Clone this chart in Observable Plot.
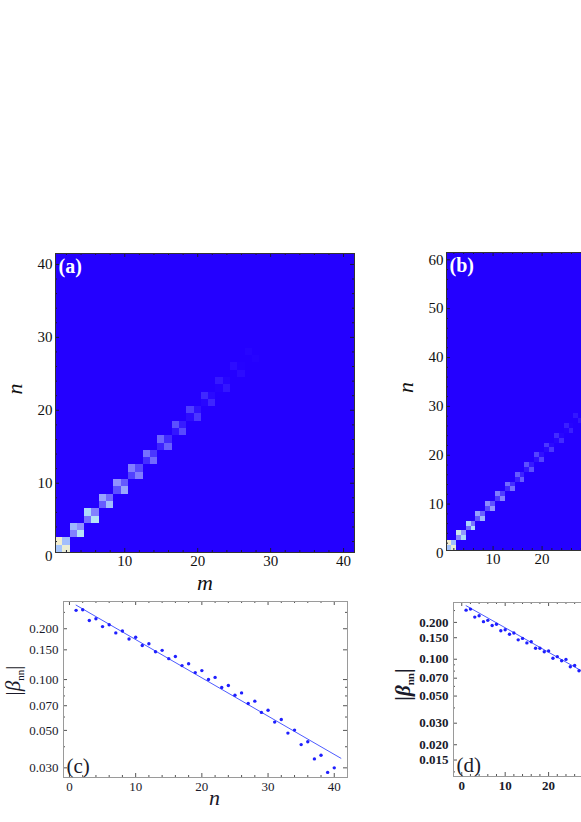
<!DOCTYPE html>
<html><head><meta charset="utf-8">
<script src="https://cdn.jsdelivr.net/npm/d3@7"></script>
<script src="https://cdn.jsdelivr.net/npm/@observablehq/plot@0.6"></script>
<style>
html,body{margin:0;padding:0;background:#fff;}
#wrap{position:relative;width:581px;height:822px;overflow:hidden;background:#fff;}
#wrap > svg{position:absolute;}
#wrap svg, #wrap svg text{font-family:"Liberation Serif","Times New Roman",serif !important;}
svg.mn g[aria-label="x-axis label"] text, svg.mn g[aria-label="y-axis label"] text{font-style:italic;font-size:22px;}
svg.beta g[aria-label="x-axis label"] text{font-style:italic;font-size:22px;}
svg.beta g[aria-label="y-axis label"] text{font-size:21px;}
</style></head><body><div id="wrap"></div>
<script>
// ---------- data ----------
// Panel (a): 41x41 matrix |beta_mn|, non-zero only in 2x2 blocks (m,n in {2k-1, 2k})
const sizeA = 41;
const aUpper    = [1.00, 0.62, 0.72, 0.56, 0.50, 0.43, 0.38, 0.34, 0.26, 0.20, 0.13, 0.08, 0.04, 0.015]; // m=2k-1, n=2k
const aLower    = [0.97, 0.78, 0.77, 0.64, 0.57, 0.43, 0.36, 0.32, 0.24, 0.18, 0.12, 0.07, 0.035, 0.01]; // m=2k, n=2k-1
const aDiagOdd  = [0.66, 0.44, 0.38, 0.31, 0.26, 0.21, 0.15, 0.11, 0.07, 0.04, 0.02, 0.01, 0, 0];
const aDiagEven = [0.64, 0.50, 0.44, 0.36, 0.30, 0.24, 0.18, 0.14, 0.09, 0.06, 0.03, 0.015, 0.005, 0];
// Panel (b): 61x61 matrix
const sizeB = 61;
const bUpper    = [1.00, 0.85, 0.70, 0.55, 0.48, 0.42, 0.36, 0.30, 0.26, 0.22, 0.18, 0.14, 0.10, 0.07, 0.05, 0.03, 0.02, 0.01];
const bLower    = [0.96, 0.72, 0.74, 0.62, 0.52, 0.45, 0.38, 0.31, 0.26, 0.22, 0.18, 0.14, 0.10, 0.07, 0.05, 0.03, 0.02, 0.01];
const bDiagOdd  = [0.66, 0.46, 0.36, 0.28, 0.24, 0.18, 0.13, 0.10, 0.07, 0.05, 0.03, 0.02, 0.01, 0, 0, 0, 0, 0];
const bDiagEven = [0.64, 0.52, 0.40, 0.32, 0.27, 0.20, 0.15, 0.11, 0.08, 0.05, 0.03, 0.02, 0.01, 0, 0, 0, 0, 0];
// Panel (c): |beta_nn| for n = 1..40 and fitted line
const cN = d3.range(1, 41);
const cVals = [0.257,0.259,0.224,0.229,0.206,0.211,0.189,0.194,0.174,0.178,0.159,0.163,0.146,0.149,0.133,0.137,0.121,0.124,0.110,0.113,0.100,0.103,0.0897,0.0922,0.0808,0.0834,0.0722,0.0745,0.0639,0.0658,0.0560,0.0580,0.0482,0.0502,0.0412,0.0428,0.0339,0.0356,0.0282,0.0300];
const cFitN = [1, 41];
const cFitV = [0.276, 0.0342];
// Panel (d): |beta_nn| (visible part n = 1..27) and fitted line
const dN = d3.range(1, 28);
const dVals = [0.252,0.257,0.221,0.227,0.203,0.208,0.189,0.193,0.171,0.174,0.160,0.164,0.144,0.148,0.136,0.139,0.123,0.123,0.115,0.117,0.102,0.105,0.0972,0.0997,0.0868,0.089,0.0805];
const dFitN = [1, 61];
const dFitV = [0.274, 0.0172];
// tick labels
const aXTicks = [10, 20, 30, 40];
const aYTicks = [0, 10, 20, 30, 40];
const bXTicks = [10, 20, 30, 40, 50, 60];
const bYTicks = [0, 10, 20, 30, 40, 50, 60];
const cXTicks = [0, 10, 20, 30, 40];
const cYTicks = [0.03, 0.05, 0.07, 0.1, 0.15, 0.2];
const dXTicks = [0, 10, 20, 30, 40, 50, 60];
const dYTicks = [0.015, 0.02, 0.03, 0.05, 0.07, 0.1, 0.15, 0.2];
const logMinor = [0.012, 0.04, 0.06, 0.08, 0.09, 0.25];
const panelLabels = ["(a)", "(b)", "(c)", "(d)"];

// ---------- helpers ----------
const colorScale = {type: "linear", domain: [0, 0.25, 0.5, 0.75, 1],
  range: ["#2400ff", "#5a4dff", "#9090ff", "#b0e2fb", "#f1edcf"], interpolate: "rgb"};

function buildCells(size, up, low, d1, d2) {
  const cells = [];
  for (let m = 1; m <= size; m++) for (let n = 1; n <= size; n++) {
    let v = 0;
    const km = Math.ceil(m / 2), kn = Math.ceil(n / 2);
    if (km === kn && km <= up.length) {
      const i = km - 1, mo = m % 2 === 1, no = n % 2 === 1;
      v = (mo && no) ? d1[i] : (!mo && !no) ? d2[i] : mo ? up[i] : low[i];
    }
    cells.push({m, n, v});
  }
  return cells;
}
const within = (arr, dom) => arr.filter(d => d >= Math.min(...dom) && d <= Math.max(...dom));

function frameTicks({xMajor, xMinor, yMajor, yMinor, W, H, major = 4, minor = 2, stroke = "#222"}) {
  const o = {stroke, strokeWidth: 1};
  return [
    Plot.tickX(xMajor, {x: d => d, insetTop: H - major, ...o}),
    Plot.tickX(xMajor, {x: d => d, insetBottom: H - major, ...o}),
    Plot.tickX(xMinor, {x: d => d, insetTop: H - minor, ...o}),
    Plot.tickX(xMinor, {x: d => d, insetBottom: H - minor, ...o}),
    Plot.tickY(yMajor, {y: d => d, insetRight: W - major, ...o}),
    Plot.tickY(yMajor, {y: d => d, insetLeft: W - major, ...o}),
    Plot.tickY(yMinor, {y: d => d, insetRight: W - minor, ...o}),
    Plot.tickY(yMinor, {y: d => d, insetLeft: W - minor, ...o})
  ];
}

const serif = "Liberation Serif";
const wrap = document.getElementById("wrap");
function place(svg, left, top, cls) {
  svg.style.left = left + "px"; svg.style.top = top + "px";
  svg.classList.add(cls);
  wrap.appendChild(svg);
  return svg;
}
// shift an axis label along its own baseline direction (rotated labels: + = up)
function nudge(svg, which, dx) {
  const t = svg.querySelector(`g[aria-label="${which}-axis label"] text`);
  if (t && dx) t.setAttribute("dx", dx);
}

function matrixPanel({size, up, low, d1, d2, xTicks, yTicks, label, ml, mr, mt, mb}) {
  const dom = [0.5, size + 0.5];
  const W = 370 - ml - mr, H = 360 - mt - mb;
  const minor = within(d3.range(2, size + 1, 2).filter(d => d % 10), dom);
  return Plot.plot({
    width: 370, height: 360, marginLeft: ml, marginRight: mr, marginTop: mt, marginBottom: mb,
    x: {domain: dom}, y: {domain: dom}, color: colorScale,
    style: {fontFamily: serif, fontSize: "15px", color: "#111", background: "transparent"},
    marks: [
      Plot.frame({fill: colorScale.range[0]}),
      Plot.rect(buildCells(size, up, low, d1, d2), {
        x1: d => d.m - 0.5, x2: d => d.m + 0.5, y1: d => d.n - 0.5, y2: d => d.n + 0.5,
        fill: "v", shapeRendering: "crispEdges"}),
      ...frameTicks({xMajor: within(xTicks, dom), xMinor: minor, yMajor: within(yTicks, dom), yMinor: minor, W, H, major: 4, minor: 2, stroke: "#1a1a3a"}),
      Plot.frame({stroke: "#333"}),
      Plot.axisX({ticks: xTicks, tickSize: 0, tickPadding: 3, label: "m", labelAnchor: "center", labelArrow: "none", labelOffset: 37}),
      Plot.axisY({ticks: yTicks, tickSize: 0, tickPadding: 3, label: "n", labelAnchor: "center", labelArrow: "none", labelOffset: 49}),
      Plot.text([label], {frameAnchor: "top-left", dx: 3, dy: 5, fill: "white", fontWeight: "bold", fontSize: 20, fontFamily: serif})
    ]
  });
}

function betaPanel({N, vals, fitN, fitV, xDom, yDom, xTicks, yTicks, label, mt, mb, weight}) {
  const ml = 63, mr = 13;
  const W = 360 - ml - mr, H = 232 - mt - mb;
  const xMinor = within(d3.range(0, 70, 2).filter(d => d % 10), xDom);
  return Plot.plot({
    width: 360, height: 232, marginLeft: ml, marginRight: mr, marginTop: mt, marginBottom: mb,
    x: {domain: xDom}, y: {type: "log", domain: yDom},
    style: {fontFamily: serif, fontSize: "13px", color: "#1a1a2a", background: "transparent", fontWeight: weight},
    marks: [
      ...frameTicks({xMajor: within(xTicks, xDom), xMinor, yMajor: within(yTicks, yDom), yMinor: within(logMinor, yDom), W, H, major: 4, minor: 2, stroke: "#555"}),
      Plot.frame({stroke: "#9a9a9a"}),
      Plot.line(fitN.map((n, i) => ({n, v: fitV[i]})), {x: "n", y: "v", stroke: "#4d5bff", strokeWidth: 1}),
      Plot.dot(N.map((n, i) => ({n, v: vals[i]})), {x: "n", y: "v", r: 1.7, fill: "#1f1fff"}),
      Plot.axisX({ticks: xTicks, tickSize: 0, tickPadding: 4, label: "n", labelAnchor: "center", labelArrow: "none", labelOffset: 27}),
      Plot.axisY({ticks: yTicks, tickFormat: d3.format(".3f"), tickSize: 0, tickPadding: 5, label: "|βnn|", labelAnchor: "center", labelArrow: "none", labelOffset: 58}),
      Plot.text([label], {frameAnchor: "bottom-left", dx: 3, dy: -5, fontSize: 21, fontFamily: serif, fontWeight: "normal", fill: "#1a1a2a"})
    ]
  });
}

function styleBeta(svg) {
  const t = svg.querySelector('g[aria-label="y-axis label"] text');
  if (!t) return svg;
  const txt = t.textContent; // "|βnn|"
  const ns = "http://www.w3.org/2000/svg";
  const parts = [[txt.slice(0, 1), {}], [txt.slice(1, 2), {"font-style": "italic"}],
                 [txt.slice(2, 4), {"font-size": "11px", dy: "4"}], [txt.slice(4), {dy: "-4"}]];
  t.textContent = "";
  for (const [s, attrs] of parts) {
    const ts = document.createElementNS(ns, "tspan");
    for (const k in attrs) ts.setAttribute(k, attrs[k]);
    ts.textContent = s;
    t.appendChild(ts);
  }
  return svg;
}

const svgA = place(matrixPanel({size: sizeA, up: aUpper, low: aLower, d1: aDiagOdd, d2: aDiagEven, xTicks: aXTicks, yTicks: aYTicks, label: panelLabels[0], ml: 55, mr: 16, mt: 13, mb: 48}), 0, 240, "mn");
nudge(svgA, "y", 14);
const svgB = place(matrixPanel({size: sizeB, up: bUpper, low: bLower, d1: bDiagOdd, d2: bDiagEven, xTicks: bXTicks, yTicks: bYTicks, label: panelLabels[1], ml: 56, mr: 15, mt: 12, mb: 50}), 390, 240, "mn");
nudge(svgB, "y", 14);
const svgC = styleBeta(place(betaPanel({N: cN, vals: cVals, fitN: cFitN, fitV: cFitV, xDom: [-0.9, 42], yDom: [0.0263, 0.29], xTicks: cXTicks, yTicks: cYTicks, label: panelLabels[2], mt: 11, mb: 45, weight: "normal"}), 0, 590, "beta"));
nudge(svgC, "y", 9); nudge(svgC, "x", 9);
const svgD = styleBeta(place(betaPanel({N: dN, vals: dVals, fitN: dFitN, fitV: dFitV, xDom: [-1.9, 63.5], yDom: [0.011, 0.291], xTicks: dXTicks, yTicks: dYTicks, label: panelLabels[3], mt: 12, mb: 46, weight: "bold"}), 390, 590, "beta"));
nudge(svgD, "y", 5);
</script></body></html>
